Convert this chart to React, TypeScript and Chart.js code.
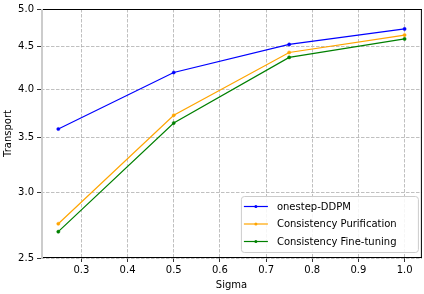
import React, { useEffect, useRef } from "react";
import { Chart, registerables } from "chart.js";

Chart.register(...registerables);

const sigma = [0.25, 0.5, 0.75, 1.0];
const onestepDDPM = [3.58, 4.19, 4.53, 4.73];
const consistencyPurification = [2.75, 3.72, 4.43, 4.65];
const consistencyFineTuning = [2.69, 3.64, 4.37, 4.6];
const seriesLabels = ["onestep-DDPM", "Consistency Purification", "Consistency Fine-tuning"];
const seriesColors = ["#0000ff", "#ffa500", "#008000"];
const xTicks = [0.3, 0.4, 0.5, 0.6, 0.7, 0.8, 0.9, 1.0];
const yTicks = [2.5, 3.0, 3.5, 4.0, 4.5, 5.0];

const FONT = "'DejaVu Sans', sans-serif";

const framePlugin = {
  id: "frame",
  afterDatasetsDraw(chart: any) {
    const { ctx, chartArea: a } = chart;
    ctx.save();
    ctx.lineWidth = 1;
    ctx.strokeStyle = "#000";
    ctx.beginPath();
    ctx.moveTo(a.left, a.top + 0.5);
    ctx.lineTo(a.right, a.top + 0.5);
    ctx.moveTo(a.right - 0.5, a.top);
    ctx.lineTo(a.right - 0.5, a.bottom);
    ctx.moveTo(a.left, a.bottom - 0.5);
    ctx.lineTo(a.right, a.bottom - 0.5);
    ctx.stroke();
    ctx.strokeStyle = "#cccccc";
    ctx.lineWidth = 2;
    ctx.beginPath();
    ctx.moveTo(a.left + 1, a.top);
    ctx.lineTo(a.left + 1, a.bottom);
    ctx.stroke();
    ctx.restore();
  },
};

const legendPlugin = {
  id: "innerLegend",
  afterDraw(chart: any) {
    const { ctx, chartArea: a } = chart;
    const w = 177;
    const h = 56;
    const x = a.right - 4 - w;
    const y = a.bottom - 6 - h;
    ctx.save();
    ctx.fillStyle = "rgba(255,255,255,0.85)";
    ctx.strokeStyle = "#cccccc";
    ctx.lineWidth = 1;
    ctx.beginPath();
    (ctx as any).roundRect(x + 0.5, y + 0.5, w, h, 3);
    ctx.fill();
    ctx.stroke();
    ctx.font = `10px ${FONT}`;
    ctx.textBaseline = "middle";
    chart.data.datasets.forEach((ds: any, i: number) => {
      const cy = y + 10.5 + i * 17.5;
      ctx.strokeStyle = ds.borderColor;
      ctx.lineWidth = 1.2;
      ctx.beginPath();
      ctx.moveTo(x + 3, cy);
      ctx.lineTo(x + 27, cy);
      ctx.stroke();
      ctx.fillStyle = ds.borderColor;
      ctx.beginPath();
      ctx.arc(x + 15, cy, 1.5, 0, Math.PI * 2);
      ctx.fill();
      ctx.fillStyle = "#000";
      ctx.textAlign = "left";
      ctx.fillText(ds.label, x + 36, cy + 0.5);
    });
    ctx.restore();
  },
};

export default function App() {
  const ref = useRef<HTMLCanvasElement | null>(null);
  useEffect(() => {
    document.body.style.margin = "0";
    const series = [onestepDDPM, consistencyPurification, consistencyFineTuning];
    const chart = new Chart(ref.current as HTMLCanvasElement, {
      type: "line",
      data: {
        datasets: series.map((vals, i) => ({
          label: seriesLabels[i],
          data: sigma.map((s, j) => ({ x: s, y: vals[j] })),
          borderColor: seriesColors[i],
          backgroundColor: seriesColors[i],
          borderWidth: 1.2,
          pointRadius: 1.6,
          pointHoverRadius: 1.6,
          pointBorderWidth: 0.5,
          pointStyle: "circle",
          tension: 0,
        })),
      },
      options: {
        animation: false,
        responsive: false,
        maintainAspectRatio: false,
        layout: { padding: { top: 6, right: 2, left: 0, bottom: 0 } },
        plugins: { legend: { display: false }, tooltip: { enabled: false } },
        scales: {
          x: {
            type: "linear",
            min: 0.2125,
            max: 1.0375,
            afterBuildTicks: (s: any) => {
              s.ticks = xTicks.map((v) => ({ value: v }));
            },
            afterFit: (s: any) => {
              s.height = 36;
            },
            ticks: {
              font: { family: FONT, size: 10 },
              color: "#000",
              padding: 2,
              maxRotation: 0,
              callback: (v: any) => Number(v).toFixed(1),
            },
            grid: {
              color: "#b0b0b0",
              lineWidth: 0.8,
              tickColor: "#000",
              tickLength: 4,
              tickBorderDash: [],
            },
            border: { display: false, dash: [3.5, 1.5] },
            title: {
              display: true,
              text: "Sigma",
              font: { family: FONT, size: 10 },
              color: "#000",
              padding: { top: 0, bottom: 3 },
            },
          },
          y: {
            type: "logarithmic",
            min: 2.5,
            max: 5.0,
            afterBuildTicks: (s: any) => {
              s.ticks = yTicks.map((v) => ({ value: v }));
            },
            afterFit: (s: any) => {
              s.width = 41;
            },
            ticks: {
              font: { family: FONT, size: 10 },
              color: "#000",
              padding: 3,
              callback: (v: any) => Number(v).toFixed(1),
            },
            grid: {
              color: "#b0b0b0",
              lineWidth: 0.8,
              tickColor: "#000",
              tickLength: 4,
              tickBorderDash: [],
            },
            border: { display: false, dash: [3.5, 1.5] },
            title: {
              display: true,
              text: "Transport",
              font: { family: FONT, size: 10 },
              color: "#000",
              padding: { top: 2, bottom: 0 },
            },
          },
        },
      } as any,
      plugins: [framePlugin, legendPlugin],
    });
    return () => chart.destroy();
  }, []);
  return (
    <div style={{ width: 424, height: 294 }}>
      <canvas ref={ref} width={424} height={294} style={{ display: "block" }} />
    </div>
  );
}
